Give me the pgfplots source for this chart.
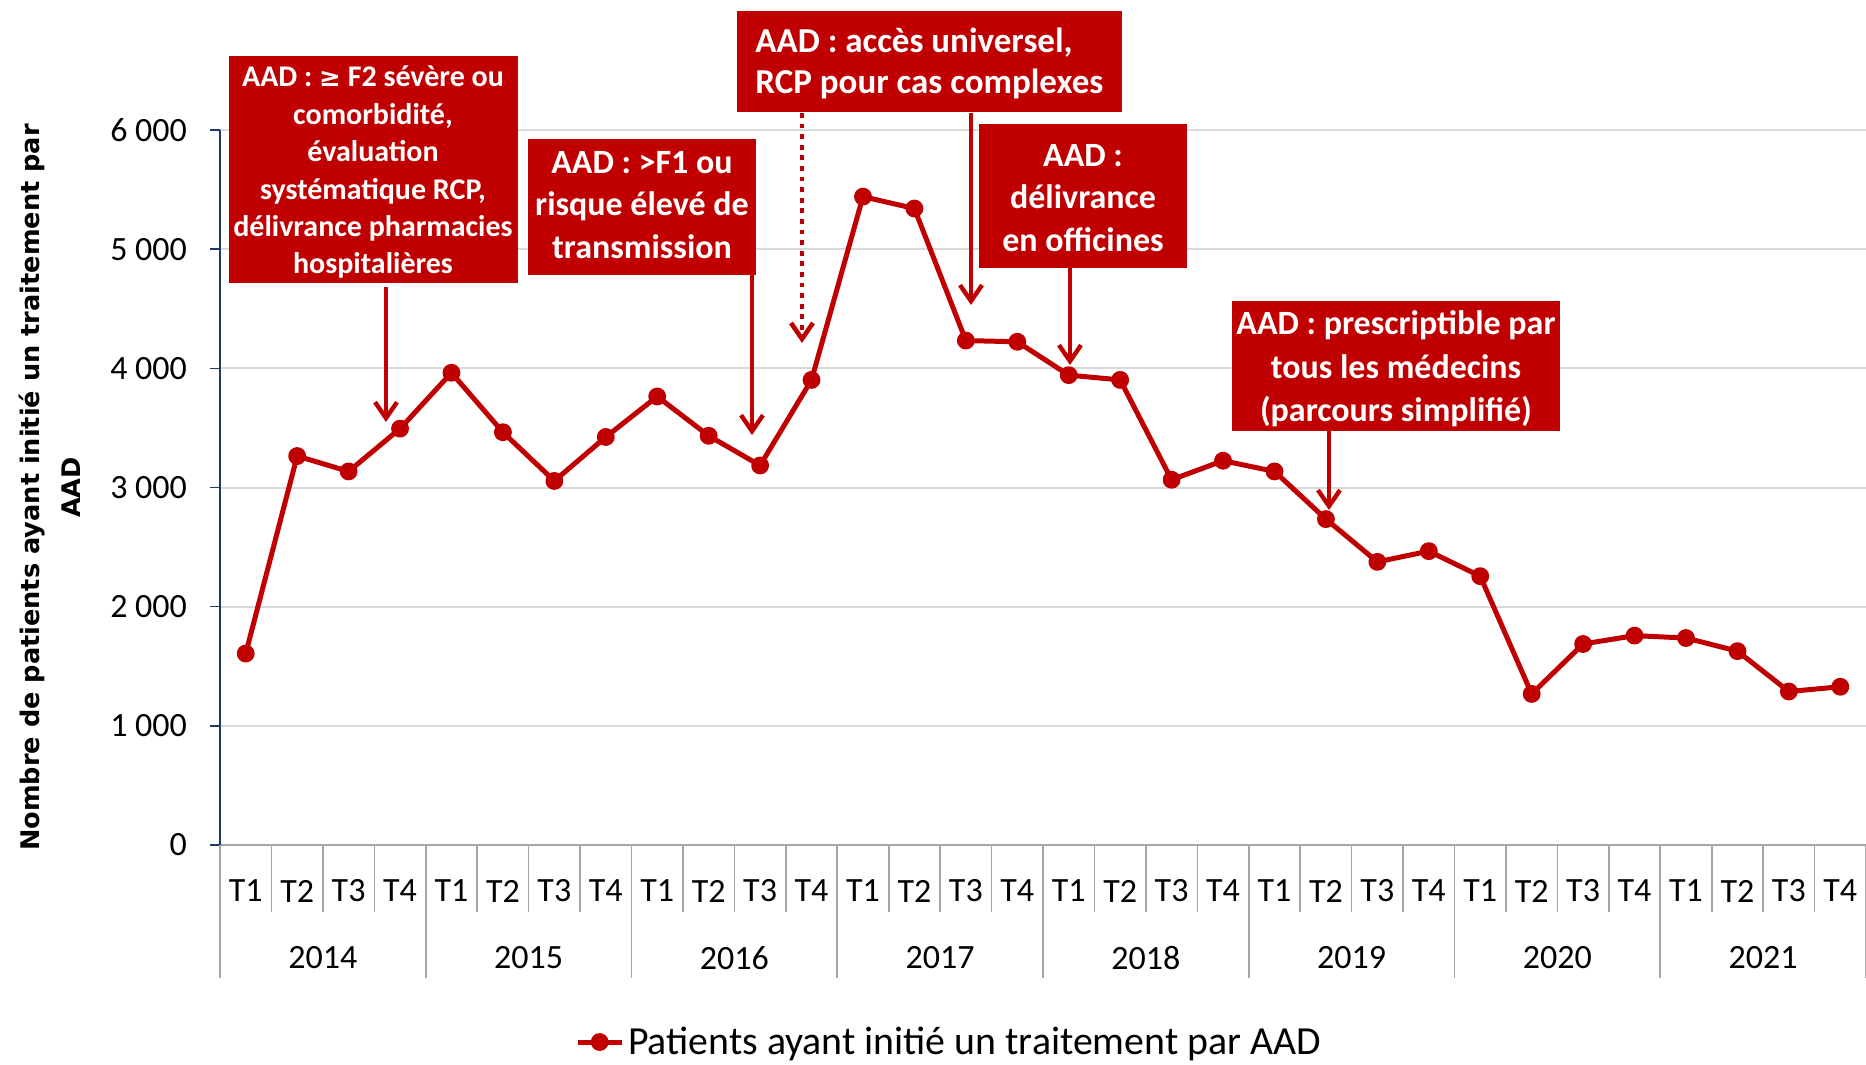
\documentclass[border=0pt]{standalone}
\usepackage{pgfplots}
\pgfplotsset{compat=1.18}
\usepackage{fontspec}
\setmainfont{Carlito}
\newfontfamily\djv{DejaVu Sans}
\usetikzlibrary{arrows.meta}
\definecolor{aadred}{HTML}{C00000}
\definecolor{gridgray}{HTML}{D9D9D9}
\definecolor{sepgray}{HTML}{A6A6A6}
\definecolor{navyax}{HTML}{203864}
\begin{document}
\begin{tikzpicture}
\useasboundingbox (0,0) rectangle (933pt,-532pt);
\begin{axis}[
  at={(110pt,-422.5pt)}, anchor=south west,
  scale only axis, width=823pt, height=357.5pt,
  xmin=-0.5, xmax=31.5, ymin=0, ymax=6000,
  clip=false,
  axis x line*=bottom, axis y line*=left,
  x axis line style={sepgray, line width=0.8pt},
  y axis line style={navyax, line width=0.8pt},
  xtick={0,...,31},
  xticklabels={T1,T2,T3,T4,T1,T2,T3,T4,T1,T2,T3,T4,T1,T2,T3,T4,T1,T2,T3,T4,T1,T2,T3,T4,T1,T2,T3,T4,T1,T2,T3,T4},
  xtick style={draw=none},
  ytick={0,1000,2000,3000,4000,5000,6000},
  yticklabels={0,1~000,2~000,3~000,4~000,5~000,6~000},
  ytick style={navyax, line width=0.8pt},
  tick align=outside, major tick length=5pt,
  ymajorgrids, grid style={gridgray, line width=1pt},
  tick label style={font=\fontsize{17}{20}\selectfont, text=black},
  xticklabel style={anchor=center, yshift=-18pt},
  yticklabel style={xshift=-8pt},
  legend style={at={(0.4435,0)}, anchor=center, yshift=-98.5pt, draw=none, fill=none, font=\fontsize{19.9}{23}\selectfont, legend cell align=left},
  legend image code/.code={\draw[mark repeat=2,mark phase=2,#1] plot coordinates {(0pt,0pt)(11pt,0pt)(22pt,0pt)};},
]
\addplot[aadred, line width=2.5pt, line join=round, mark=*, mark size=3.2pt, mark options={solid, fill=aadred}] coordinates {
(0,1607) (1,3264) (2,3135) (3,3494)
(4,3963) (5,3464) (6,3055) (7,3424)
(8,3764) (9,3434) (10,3185) (11,3903)
(12,5441) (13,5341) (14,4233) (15,4223)
(16,3943) (17,3903) (18,3065) (19,3225)
(20,3135) (21,2735) (22,2376) (23,2466)
(24,2256) (25,1268) (26,1687) (27,1757)
(28,1737) (29,1627) (30,1288) (31,1328)
};
\addlegendentry{Patients ayant initié un traitement par AAD}
\pgfplotsinvokeforeach{0.5,1.5,2.5,4.5,5.5,6.5,8.5,9.5,10.5,12.5,13.5,14.5,16.5,17.5,18.5,20.5,21.5,22.5,24.5,25.5,26.5,28.5,29.5,30.5}{
  \draw[sepgray, line width=0.8pt] (axis cs:#1,0) -- ++(0pt,-33.5pt);
}
\pgfplotsinvokeforeach{-0.5,3.5,7.5,11.5,15.5,19.5,23.5,27.5,31.5}{
  \draw[sepgray, line width=0.8pt] (axis cs:#1,0) -- ++(0pt,-66.5pt);
}
\node[font=\fontsize{17}{20}\selectfont, yshift=-56.5pt] at (axis cs:1.5,0) {2014};
\node[font=\fontsize{17}{20}\selectfont, yshift=-56.5pt] at (axis cs:5.5,0) {2015};
\node[font=\fontsize{17}{20}\selectfont, yshift=-56.5pt] at (axis cs:9.5,0) {2016};
\node[font=\fontsize{17}{20}\selectfont, yshift=-56.5pt] at (axis cs:13.5,0) {2017};
\node[font=\fontsize{17}{20}\selectfont, yshift=-56.5pt] at (axis cs:17.5,0) {2018};
\node[font=\fontsize{17}{20}\selectfont, yshift=-56.5pt] at (axis cs:21.5,0) {2019};
\node[font=\fontsize{17}{20}\selectfont, yshift=-56.5pt] at (axis cs:25.5,0) {2020};
\node[font=\fontsize{17}{20}\selectfont, yshift=-56.5pt] at (axis cs:29.5,0) {2021};
\end{axis}
% y label
\node[rotate=90, font=\djv\bfseries\fontsize{12.8}{20.5}\selectfont, align=center] at (25pt,-243.75pt) {Nombre de patients ayant initié un traitement par\\AAD};
% annotation boxes
\fill[aadred] (114.25pt,-28pt) rectangle (258.85pt,-141.5pt);
\node[text=white, font=\bfseries\fontsize{15}{18.7}\selectfont, align=center, inner sep=0pt] at (186.5pt,-86.25pt) {AAD : {\djv\fontsize{13}{18.7}\selectfont ≥} F2 sévère ou\\comorbidité,\\évaluation\\systématique RCP,\\délivrance pharmacies\\hospitalières};
\fill[aadred] (264pt,-69.5pt) rectangle (378pt,-137.5pt);
\node[text=white, font=\bfseries\fontsize{17}{21.4}\selectfont, align=center, inner sep=0pt] at (321pt,-102.5pt) {AAD : >F1 ou\\risque élevé de\\transmission};
\fill[aadred] (368.3pt,-5.3pt) rectangle (561pt,-56pt);
\node[text=white, font=\bfseries\fontsize{17.5}{20.8}\selectfont, align=left, inner sep=0pt] at (464.7pt,-31.7pt) {AAD : accès universel,\\RCP pour cas complexes};
\fill[aadred] (489.5pt,-62pt) rectangle (593.5pt,-134pt);
\node[text=white, font=\bfseries\fontsize{17}{21.4}\selectfont, align=center, inner sep=0pt] at (541.5pt,-99pt) {AAD :\\délivrance\\en officines};
\fill[aadred] (616pt,-150.5pt) rectangle (780pt,-215.5pt);
\node[text=white, font=\bfseries\fontsize{17}{21.7}\selectfont, align=center, inner sep=0pt] at (698pt,-184.5pt) {AAD : prescriptible par\\tous les médecins\\(parcours simplifié)};
% arrows
\tikzset{aarr/.style={aadred, line width=2.2pt, -{Straight Barb[length=8pt,width=11pt]}}}
\draw[aarr] (193pt,-143.5pt) -- (193pt,-211pt);
\draw[aarr] (376pt,-137.5pt) -- (376pt,-217.5pt);
\draw[aarr, line width=2.3pt, dash pattern=on 2.4pt off 2.9pt] (401pt,-56.5pt) -- (401pt,-171.5pt);
\draw[aarr] (485.5pt,-56.5pt) -- (485.5pt,-152.5pt);
\draw[aarr] (535pt,-134pt) -- (535pt,-182.5pt);
\draw[aarr] (664.5pt,-215.5pt) -- (664.5pt,-255pt);
\end{tikzpicture}
\end{document}
